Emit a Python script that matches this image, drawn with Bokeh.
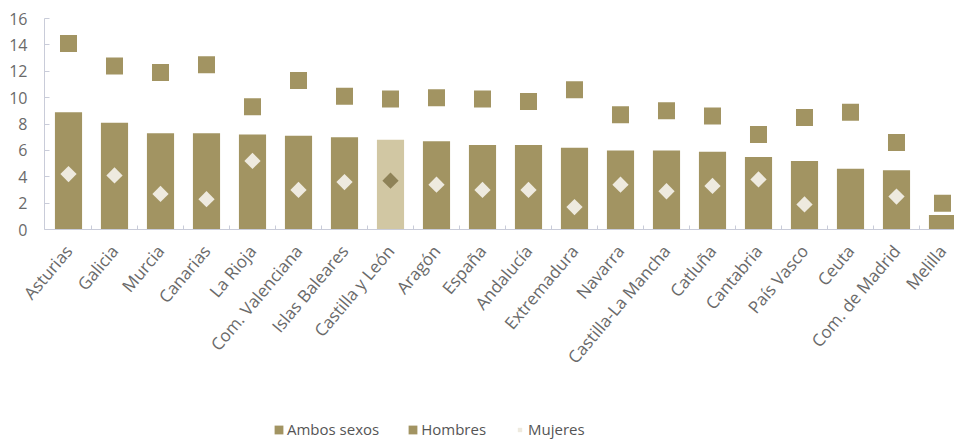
from math import pi
from bokeh.plotting import figure
from bokeh.models import Range1d, FixedTicker, Legend, LegendItem, ColumnDataSource
from bokeh.embed import file_html
from bokeh.resources import INLINE

regiones = ["Asturias", "Galicia", "Murcia", "Canarias", "La Rioja", "Com. Valenciana",
            "Islas Baleares", "Castilla y León", "Aragón", "España", "Andalucía", "Extremadura",
            "Navarra", "Castilla-La Mancha", "Catluña", "Cantabria", "País Vasco", "Ceuta",
            "Com. de Madrid", "Melilla"]
ambos_sexos = [8.9, 8.1, 7.3, 7.3, 7.2, 7.1, 7.0, 6.8, 6.7, 6.4, 6.4, 6.2,
               6.0, 6.0, 5.9, 5.5, 5.2, 4.6, 4.5, 1.1]
hombres = [14.1, 12.4, 11.9, 12.5, 9.3, 11.3, 10.1, 9.9, 10.0, 9.9, 9.7, 10.6,
           8.7, 9.0, 8.6, 7.2, 8.5, 8.9, 6.6, 2.0]
mujeres = [4.2, 4.1, 2.7, 2.3, 5.2, 3.0, 3.6, 3.7, 3.4, 3.0, 3.0, 1.7,
           3.4, 2.9, 3.3, 3.8, 1.9, float("nan"), 2.5, float("nan")]
y_ticks = [0, 2, 4, 6, 8, 10, 12, 14, 16]
destacada = "Castilla y León"

DARK = "#A29462"
LIGHT = "#D1C7A3"
CREAM = "#EEEADF"
DARK_DIA = "#8E8257"
AXIS = "#C9CCD9"
TXT = "#6a6a6a"
FONT = "Open Sans"

pos = list(range(len(regiones)))
src = ColumnDataSource(dict(
    x=pos, ambos=ambos_sexos, hombres=hombres, mujeres=mujeres,
    bar_color=[LIGHT if r == destacada else DARK for r in regiones],
    dia_color=[DARK_DIA if r == destacada else CREAM for r in regiones],
))

X0 = -0.5217          # left edge of the bar area (y axis position)
X1 = 19.261
PX_X = 46.0           # pixels per category
PX_Y = 13.1875        # pixels per unit
x_start = X0 - 44 / PX_X
y_start = -(447 - 229) / PX_Y
y_end = 16 + 18 / PX_Y

p = figure(width=954, height=447, x_range=Range1d(x_start, X1), y_range=Range1d(y_start, y_end),
           output_backend="svg", toolbar_location=None,
           min_border_left=0, min_border_right=0, min_border_top=0, min_border_bottom=0)
p.outline_line_color = None
p.grid.visible = False
p.background_fill_color = "white"
p.border_fill_color = "white"

bars = p.vbar(x="x", top="ambos", width=0.59, fill_color="bar_color", line_color=None, source=src)
hom = p.rect(x="x", y="hombres", width=17, height=17, width_units="screen", height_units="screen",
             fill_color=DARK, line_color=None, source=src)
muj = p.scatter(x="x", y="mujeres", marker="square", size=11.5, angle=pi / 4,
                fill_color="dia_color", line_color=None, source=src)

xa = p.xaxis[0]
xa.fixed_location = 0
xa.bounds = (X0, X1)
xa.ticker = FixedTicker(ticks=pos, minor_ticks=[i + 0.5 for i in pos[:-1]])
xa.major_label_overrides = {i: r for i, r in enumerate(regiones)}
xa.major_label_orientation = 0.87
xa.major_tick_in = 0
xa.major_tick_out = 0
xa.minor_tick_in = 4
xa.minor_tick_out = 0
xa.minor_tick_line_color = AXIS
xa.axis_line_color = AXIS
xa.major_label_standoff = 18

ya = p.yaxis[0]
ya.fixed_location = X0
ya.ticker = FixedTicker(ticks=y_ticks)
ya.bounds = (0, 16)
ya.major_tick_in = 5
ya.major_tick_out = 0
ya.minor_tick_in = 0
ya.minor_tick_out = 0
ya.major_tick_line_color = AXIS
ya.axis_line_color = AXIS
ya.major_label_standoff = 17

for ax in (xa, ya):
    ax.major_label_text_font = FONT
    ax.major_label_text_color = TXT
xa.major_label_text_font_size = "17px"
ya.major_label_text_font_size = "16px"

legend = Legend(items=[
    LegendItem(label="Ambos sexos", renderers=[bars], index=0),
    LegendItem(label="Hombres", renderers=[hom], index=0),
    LegendItem(label="Mujeres", renderers=[muj], index=0),
], orientation="horizontal", location=(273, 8))
legend.glyph_width = 11
legend.glyph_height = 11
legend.label_standoff = 3
legend.spacing = 28
legend.padding = 0
legend.margin = 0
legend.border_line_color = None
legend.background_fill_alpha = 0
legend.label_text_font = FONT
legend.label_text_font_size = "15px"
legend.label_text_color = "#555555"
p.add_layout(legend, "center")

open("out.html", "w").write(file_html(p, INLINE))
